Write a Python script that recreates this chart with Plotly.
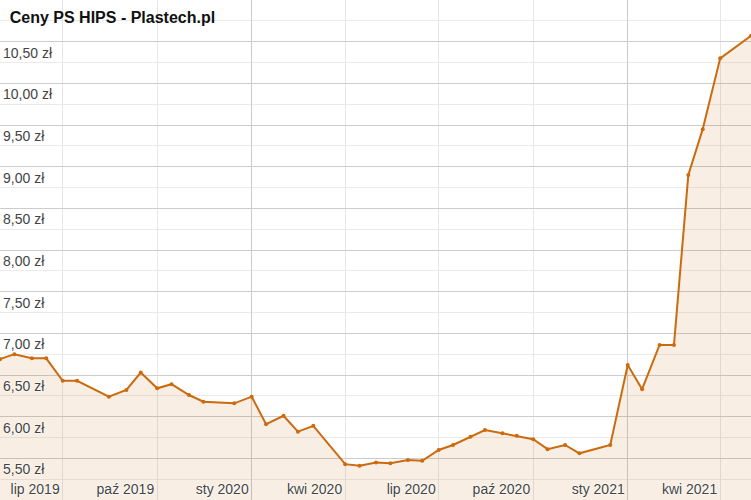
import plotly.graph_objects as go

dates = [
    "2019-05-01", "2019-05-15", "2019-06-01", "2019-06-15", "2019-07-01", "2019-07-15",
    "2019-08-15", "2019-09-01", "2019-09-15", "2019-10-01", "2019-10-15", "2019-11-01",
    "2019-11-15", "2019-12-15", "2020-01-01", "2020-01-15", "2020-02-01", "2020-02-15",
    "2020-03-01", "2020-04-01", "2020-04-15", "2020-05-01", "2020-05-15", "2020-06-01",
    "2020-06-15", "2020-07-01", "2020-07-15", "2020-08-01", "2020-08-15", "2020-09-01",
    "2020-09-15", "2020-10-01", "2020-10-15", "2020-11-01", "2020-11-15", "2020-12-15",
    "2021-01-01", "2021-01-15", "2021-02-01", "2021-02-15", "2021-03-01", "2021-03-15",
    "2021-04-01", "2021-05-01",
]
prices = [
    6.69, 6.75, 6.70, 6.70, 6.43, 6.43,
    6.24, 6.32, 6.53, 6.34, 6.39, 6.26,
    6.18, 6.16, 6.24, 5.91, 6.01, 5.82,
    5.89, 5.43, 5.41, 5.45, 5.44, 5.48,
    5.47, 5.60, 5.66, 5.76, 5.84, 5.80,
    5.77, 5.73, 5.61, 5.66, 5.56, 5.66,
    6.62, 6.33, 6.86, 6.86, 8.90, 9.45,
    10.30, 10.57,
]

x_tick_vals = ["2019-07-01", "2019-10-01", "2020-01-01", "2020-04-01",
               "2020-07-01", "2020-10-01", "2021-01-01", "2021-04-01"]
x_tick_text = ["lip 2019", "paź 2019", "sty 2020", "kwi 2020",
               "lip 2020", "paź 2020", "sty 2021", "kwi 2021"]
y_tick_vals = [5.5, 6.0, 6.5, 7.0, 7.5, 8.0, 8.5, 9.0, 9.5, 10.0, 10.5]
y_tick_text = ["5,50 zł", "6,00 zł", "6,50 zł", "7,00 zł", "7,50 zł", "8,00 zł",
               "8,50 zł", "9,00 zł", "9,50 zł", "10,00 zł", "10,50 zł"]
year_lines = ["2020-01-01", "2021-01-01"]

LINE = "#cc6a0e"
FONT = "Liberation Sans, Arial, sans-serif"
XR = ["2019-05-01", "2021-05-01"]

fig = go.Figure()
fig.add_trace(go.Scatter(
    x=dates, y=prices, mode="lines+markers",
    line=dict(color=LINE, width=2),
    marker=dict(color=LINE, size=4),
    fill="tozeroy", fillcolor="rgba(204,102,0,0.11)",
    hoverinfo="x+y", showlegend=False,
))
# invisible trace on overlay axis for darker year gridlines
fig.add_trace(go.Scatter(x=XR, y=[5, 5], xaxis="x2", mode="lines",
                         line=dict(width=0), hoverinfo="skip", showlegend=False))

fig.update_layout(
    width=751, height=500, autosize=False,
    margin=dict(l=0, r=0, t=0, b=0),
    paper_bgcolor="white", plot_bgcolor="white",
    title=dict(text="<b>Ceny PS HIPS - Plastech.pl</b>", x=0.013, xanchor="left",
               y=1 - 17 / 500, yanchor="middle", yref="container",
               font=dict(family=FONT, size=16, color="#111")),
    xaxis=dict(
        type="date", range=XR, tickvals=x_tick_vals, ticktext=x_tick_text,
        ticklabelposition="inside left", ticklabelshift=-3, ticklabelstandoff=-3,
        showgrid=True, gridcolor="#e6e6e6",
        gridwidth=1, zeroline=False, showline=False, ticks="",
        tickfont=dict(family=FONT, size=14, color="#444",
                      shadow="0px 0px 2px white, 0px 0px 2px white, 0px 0px 1px white"),
        layer="above traces",
    ),
    xaxis2=dict(
        type="date", range=XR, overlaying="x", tickvals=year_lines,
        showticklabels=False, showgrid=True, gridcolor="#cccccc", gridwidth=1,
        zeroline=False, showline=False, ticks="",
    ),
    yaxis=dict(
        range=[5, 11], tickvals=y_tick_vals, ticktext=y_tick_text,
        ticklabelposition="inside", ticklabelshift=11,
        showgrid=True, gridcolor="#cccccc", gridwidth=1,
        minor=dict(dtick=0.25, tick0=5, showgrid=True, gridcolor="#ebebeb", ticks=""),
        zeroline=False, showline=False, ticks="",
        tickfont=dict(family=FONT, size=14, color="#444",
                      shadow="0px 0px 2px white, 0px 0px 2px white"),
        layer="above traces",
    ),
    font=dict(family=FONT),
)

fig.write_html("out.html", config={"displayModeBar": False},
               post_script="document.body.style.margin='0';document.body.style.overflow='hidden';")
